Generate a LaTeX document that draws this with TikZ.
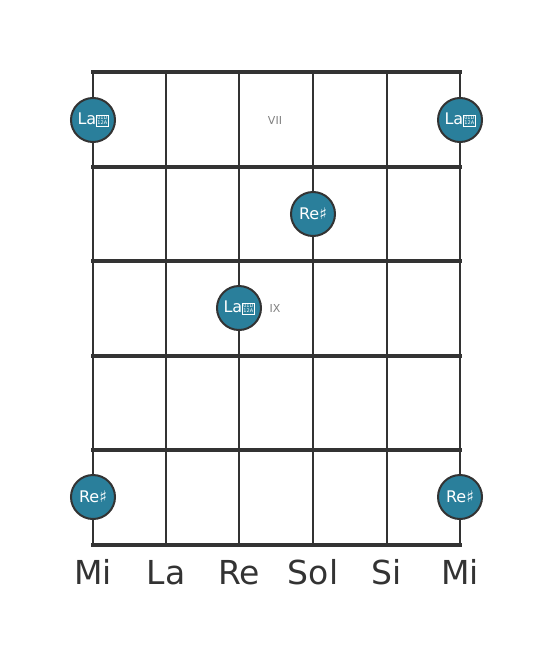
\documentclass[tikz,border=0pt]{standalone}
\usepackage{fontspec}
\setmainfont{DejaVu Sans}
\definecolor{dotfill}{HTML}{2A7F9B}
\definecolor{linegray}{HTML}{333333}
% the double sharp has no glyph in the fonts: draw it as the reference shows it
\newcommand{\dblsharpbox}{\raisebox{2.5pt}{\setlength{\fboxsep}{0.5pt}\setlength{\fboxrule}{0.5pt}%
  \fbox{\fontsize{5}{5}\selectfont\begin{tabular}{@{}c@{}}01D\\[-0.6pt]12A\end{tabular}}}}
\tikzset{
  notedot/.style={circle, draw=linegray, line width=2pt, fill=dotfill, minimum size=44pt,
    inner sep=0pt, text=white, font=\fontsize{16}{16}\selectfont},
  fretnum/.style={text=gray, font=\fontsize{11}{11}\selectfont},
  stringname/.style={text=linegray, anchor=base, font=\fontsize{33}{33}\selectfont},
}
\begin{document}
\begin{tikzpicture}[x=1pt,y=-1pt]
\useasboundingbox (0,0) rectangle (553,656);
% strings
\foreach \x in {93,166,239,313,387,460}
  \draw[linegray, line width=2.5pt] (\x,72) -- (\x,545);
% frets
\foreach \y in {72,167,261,356,450,545}
  \draw[linegray, line width=4pt, line cap=rect] (93,\y) -- (460,\y);
% fret numbers
\node[fretnum] (fretVII) at (275,120) {VII};
\node[fretnum] (fretIX) at (275,308) {IX};
% notes
\node[notedot] (laA) at (93,120) {La\dblsharpbox};
\node[notedot] (laB) at (460,120) {La\dblsharpbox};
\node[notedot] (reA) at (313,214) {Re♯};
\node[notedot] (laC) at (239,308) {La\dblsharpbox};
\node[notedot] (reB) at (93,497) {Re♯};
\node[notedot] (reC) at (460,497) {Re♯};
% string names
\node[stringname] (sMiLow) at (93,584) {Mi};
\node[stringname] (sLa) at (166,584) {La};
\node[stringname] (sRe) at (239,584) {Re};
\node[stringname] (sSol) at (313,584) {Sol};
\node[stringname] (sSi) at (387,584) {Si};
\node[stringname] (sMiHigh) at (460,584) {Mi};
\end{tikzpicture}
\end{document}
